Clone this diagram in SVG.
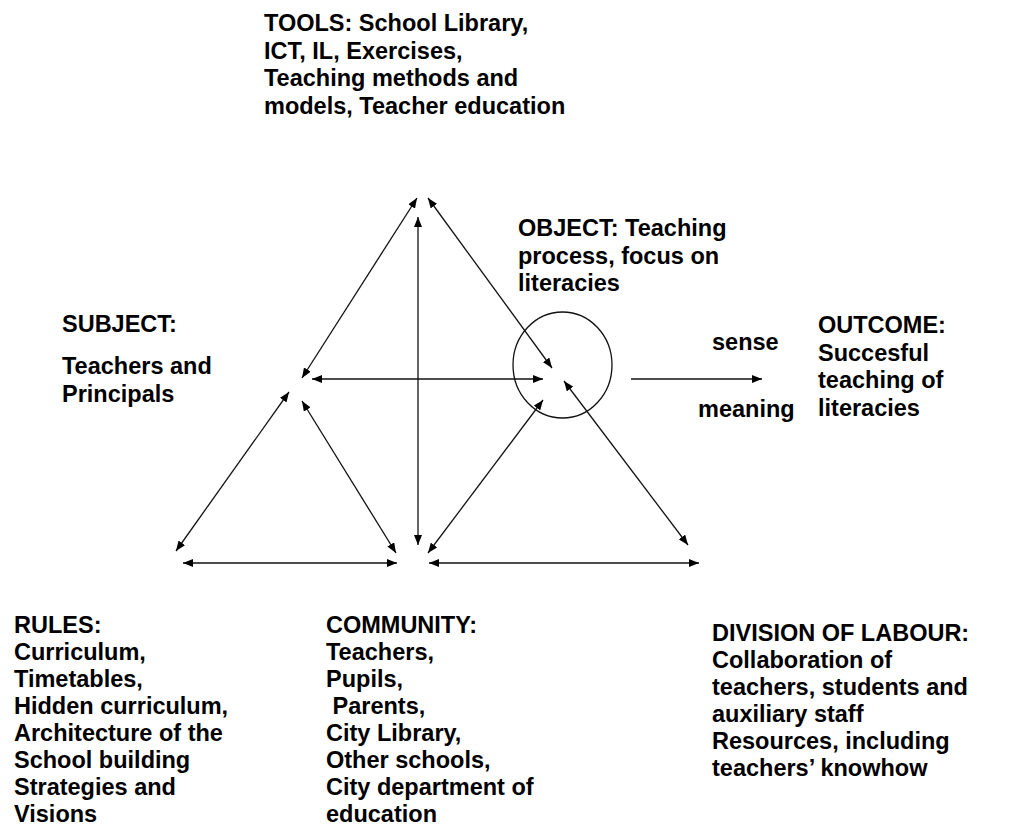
<svg xmlns="http://www.w3.org/2000/svg" width="1034" height="834" viewBox="0 0 1034 834">
  <style>
    .lbl { font-family: "Liberation Sans", Arial, sans-serif; font-weight: bold; font-size: 23.5px; fill: #000; }
    .conn { stroke: #111; stroke-width: 1.3; fill: none; }
    .two { marker-start: url(#head); marker-end: url(#head); }
    .one { marker-end: url(#head); }
  </style>
  <defs>
    <marker id="head" viewBox="0 0 10 8" refX="10" refY="4" markerWidth="10" markerHeight="8" markerUnits="userSpaceOnUse" orient="auto-start-reverse">
      <path d="M0,0 L10,4 L0,8 Z" fill="#000"/>
    </marker>
  </defs>
  <rect width="1034" height="834" fill="#fff"/>

  <!-- connectors of the activity triangle -->
  <g id="connectors">
    <line class="conn two" x1="417" y1="198" x2="302" y2="378"/>
    <line class="conn two" x1="428" y1="198" x2="552" y2="368"/>
    <line class="conn two" x1="418" y1="217" x2="418" y2="545"/>
    <line class="conn two" x1="312" y1="379" x2="543" y2="379"/>
    <line class="conn two" x1="289" y1="392" x2="176" y2="551"/>
    <line class="conn two" x1="302" y1="401" x2="396" y2="553"/>
    <line class="conn two" x1="183" y1="563" x2="397" y2="563"/>
    <line class="conn two" x1="429" y1="563" x2="699" y2="563"/>
    <line class="conn two" x1="543" y1="400" x2="428" y2="553"/>
    <line class="conn two" x1="564" y1="381" x2="688" y2="545"/>
    <line class="conn one" x1="631" y1="379" x2="762" y2="379"/>
  </g>

  <!-- object focus ring -->
  <g id="object-ring">
    <ellipse cx="562.5" cy="365" rx="49.5" ry="53" class="conn"/>
  </g>

  <g id="tools">
    <text class="lbl" x="264" y="31">TOOLS: School Library,</text>
    <text class="lbl" x="264" y="58.5">ICT, IL, Exercises,</text>
    <text class="lbl" x="264" y="86">Teaching methods and</text>
    <text class="lbl" x="264" y="113.5">models, Teacher education</text>
  </g>

  <g id="subject">
    <text class="lbl" x="62" y="332">SUBJECT:</text>
    <text class="lbl" x="62" y="374">Teachers and</text>
    <text class="lbl" x="62" y="402">Principals</text>
  </g>

  <g id="object">
    <text class="lbl" x="518" y="236">OBJECT: Teaching</text>
    <text class="lbl" x="518" y="263.5">process, focus on</text>
    <text class="lbl" x="518" y="291">literacies</text>
  </g>

  <g id="sense-meaning">
    <text class="lbl" x="712" y="350">sense</text>
    <text class="lbl" x="698" y="417">meaning</text>
  </g>

  <g id="outcome">
    <text class="lbl" x="818" y="333">OUTCOME:</text>
    <text class="lbl" x="818" y="360.5">Succesful</text>
    <text class="lbl" x="818" y="388">teaching of</text>
    <text class="lbl" x="818" y="415.5">literacies</text>
  </g>

  <g id="rules">
    <text class="lbl" x="14" y="633">RULES:</text>
    <text class="lbl" x="14" y="660">Curriculum,</text>
    <text class="lbl" x="14" y="687">Timetables,</text>
    <text class="lbl" x="14" y="714">Hidden curriculum,</text>
    <text class="lbl" x="14" y="741">Architecture of the</text>
    <text class="lbl" x="14" y="768">School building</text>
    <text class="lbl" x="14" y="795">Strategies and</text>
    <text class="lbl" x="14" y="822">Visions</text>
  </g>

  <g id="community">
    <text class="lbl" x="326" y="633">COMMUNITY:</text>
    <text class="lbl" x="326" y="660">Teachers,</text>
    <text class="lbl" x="326" y="687">Pupils,</text>
    <text class="lbl" x="326" y="714" xml:space="preserve"> Parents,</text>
    <text class="lbl" x="326" y="741">City Library,</text>
    <text class="lbl" x="326" y="768">Other schools,</text>
    <text class="lbl" x="326" y="795">City department of</text>
    <text class="lbl" x="326" y="822">education</text>
  </g>

  <g id="division-of-labour">
    <text class="lbl" x="712" y="641">DIVISION OF LABOUR:</text>
    <text class="lbl" x="712" y="668">Collaboration of</text>
    <text class="lbl" x="712" y="695">teachers, students and</text>
    <text class="lbl" x="712" y="722">auxiliary staff</text>
    <text class="lbl" x="712" y="749">Resources, including</text>
    <text class="lbl" x="712" y="776">teachers’ knowhow</text>
  </g>
</svg>
